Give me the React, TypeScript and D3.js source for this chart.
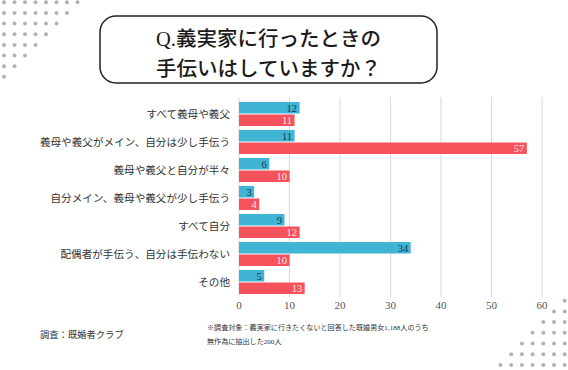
import React from 'react';
import * as d3 from 'd3';

// chart data
const categories = [
  'すべて義母や義父',
  '義母や義父がメイン、自分は少し手伝う',
  '義母や義父と自分が半々',
  '自分メイン、義母や義父が少し手伝う',
  'すべて自分',
  '配偶者が手伝う、自分は手伝わない',
  'その他',
];
const blueValues = [12, 11, 6, 3, 9, 34, 5];
const redValues = [11, 57, 10, 4, 12, 10, 13];
const xTicks = [0, 10, 20, 30, 40, 50, 60];
const titleLines = ['Q.義実家に行ったときの', '手伝いはしていますか？'];
const sourceText = '調査：既婚者クラブ';
const noteLines = [
  '※調査対象：義実家に行きたくないと回答した既婚男女1,188人のうち',
  '無作為に抽出した200人',
];

const W = 568;
const H = 370;
const FONT = "'Liberation Serif', 'Noto Sans CJK JP', serif";
const BLUE = '#3fb4d5';
const RED = '#f5525b';

export default function App() {
  const x = d3.scaleLinear().domain([0, 60]).range([239, 542]);
  const y = d3.scaleBand<string>().domain(categories).range([100, 296]);
  const inner = d3
    .scaleBand<string>()
    .domain(['blue', 'red'])
    .range([0, y.step()])
    .paddingInner(0.08)
    .paddingOuter(0.16);

  // decorative dot triangles
  const dotsTL: [number, number][] = [];
  for (let i = 0; i < 8; i++) {
    for (let j = 0; j < 8 - i; j++) dotsTL.push([4 + j * 10.5, 2.3 + i * 10.65]);
  }
  const dotsBR: [number, number][] = [];
  for (let i = 0; i < 7; i++) {
    for (let j = 0; j <= i; j++) dotsBR.push([564.7 - j * 10.7, 300.7 + i * 10.7]);
  }

  const series = [
    { key: 'blue', values: blueValues, fill: BLUE, text: '#1d3550' },
    { key: 'red', values: redValues, fill: RED, text: '#ffe9ea' },
  ];

  return (
    <svg
      width={W}
      height={H}
      style={{ position: 'absolute', left: 0, top: 0, background: '#fff' }}
      fontFamily={FONT}
    >
      <rect width={W} height={H} fill="#fff" />
      {dotsTL.map(([cx, cy], i) => (
        <circle key={'tl' + i} cx={cx} cy={cy} r={2} fill="#b3b3b3" />
      ))}
      {dotsBR.map(([cx, cy], i) => (
        <circle key={'br' + i} cx={cx} cy={cy} r={2} fill="#b3b3b3" />
      ))}

      {/* title box */}
      <rect x={100} y={16} width={337} height={67} rx={16} fill="#fff" stroke="#222" strokeWidth={1.5} />
      {titleLines.map((t, i) => (
        <text
          key={t}
          x={268.5}
          y={46 + i * 30}
          textAnchor="middle"
          fontSize={20.5}
          fontWeight={500}
          fill="#1a1a1a"
        >
          {t}
        </text>
      ))}

      {/* grid */}
      {xTicks.map((t) => (
        <g key={t}>
          <line x1={x(t)} x2={x(t)} y1={97} y2={297} stroke="#d9d9d9" strokeWidth={1} />
          <text x={x(t)} y={309} textAnchor="middle" fontSize={11} fill="#555">
            {t}
          </text>
        </g>
      ))}

      {/* category labels */}
      {categories.map((c) => (
        <text
          key={c}
          x={230}
          y={(y(c) ?? 0) + y.bandwidth() / 2}
          dy="0.35em"
          textAnchor="end"
          fontSize={10.6}
          fill="#333"
        >
          {c}
        </text>
      ))}

      {/* bars */}
      {series.map((s) =>
        categories.map((c, i) => {
          const by = (y(c) ?? 0) + (inner(s.key) ?? 0);
          const v = s.values[i];
          return (
            <g key={s.key + c}>
              <rect x={x(0)} y={by} width={x(v) - x(0)} height={inner.bandwidth()} fill={s.fill} />
              <text
                x={x(v) - 2.5}
                y={by + inner.bandwidth() / 2}
                dy="0.36em"
                textAnchor="end"
                fontSize={10.5}
                fill={s.text}
              >
                {v}
              </text>
            </g>
          );
        })
      )}

      {/* footer */}
      <text x={40} y={338} fontSize={9.3} fill="#333">
        {sourceText}
      </text>
      {noteLines.map((t, i) => (
        <text key={t} x={207} y={330 + i * 14} fontSize={7.1} fill="#333">
          {t}
        </text>
      ))}
    </svg>
  );
}
